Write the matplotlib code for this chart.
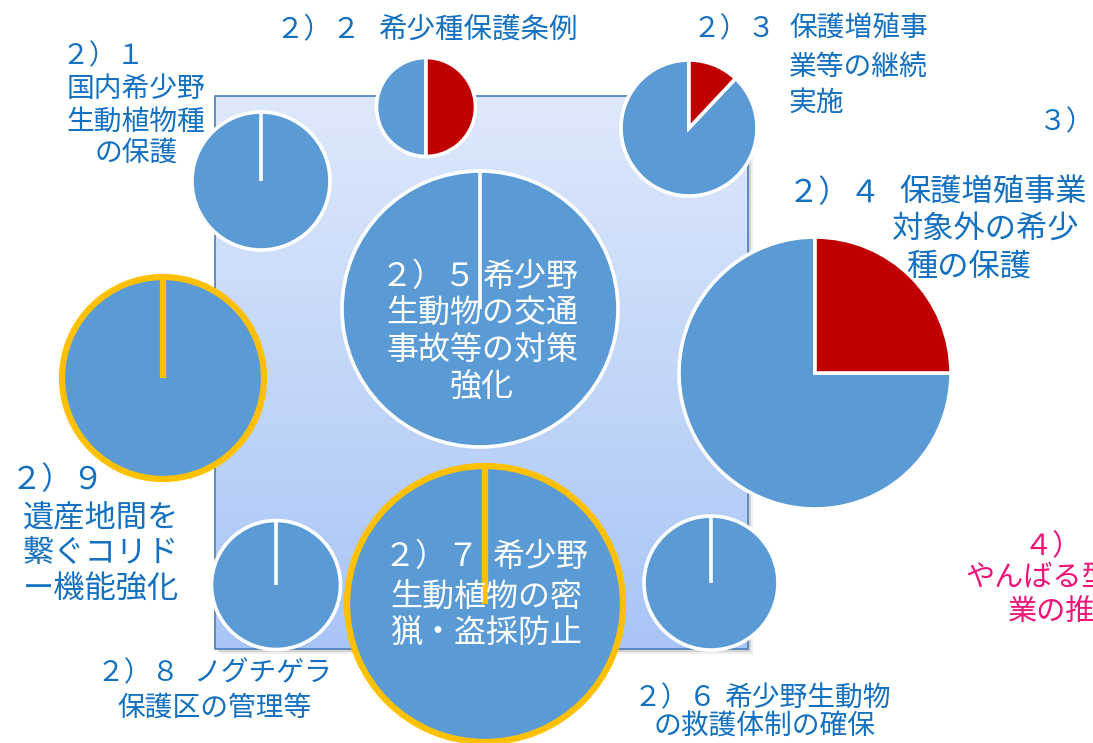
import numpy as np
import matplotlib.pyplot as plt
from matplotlib.patches import Rectangle
from matplotlib.colors import to_rgb

plt.rcParams['font.family'] = ['Noto Sans CJK JP', 'DejaVu Sans']

W, H = 1093, 743

# Pie data: red = first (clockwise from 12 o'clock) part, blue = the rest
items = ['２）１', '２）２', '２）３', '２）４', '２）５', '２）６', '２）７', '２）８', '２）９']
red_share = [0, 50, 12, 25, 0, 0, 0, 0, 0]
blue_share = [100, 50, 88, 75, 100, 100, 100, 100, 100]
highlighted = ['２）７', '２）９']

# layout in pixels, measured from the top-left corner
centers = [(261, 181), (426, 107), (689, 128), (815, 373), (480, 309),
           (711, 583), (485, 604), (276, 585), (163, 378)]
radii = [69, 49.5, 68, 136, 138, 67, 138, 64.5, 101]

BLUE = '#5B9BD5'
RED = '#C00000'
ORANGE = '#FFC000'
TXT = '#1470C0'
PINK = '#F0147A'

# text, x, y, ha, size, colour
label_rows = [
    ('２）１', 62, 56, 'left', 20, TXT),
    ('国内希少野', 136, 89, 'center', 20, TXT),
    ('生動植物種', 136, 122, 'center', 20, TXT),
    ('の保護', 136, 153, 'center', 20, TXT),
    ('２）２', 275, 30, 'left', 20.5, TXT),
    ('希少種保護条例', 378, 30, 'left', 20.5, TXT),
    ('２）３', 693, 29, 'left', 20, TXT),
    ('保護増殖事', 789, 29, 'left', 20, TXT),
    ('業等の継続', 789, 67, 'left', 20, TXT),
    ('実施', 789, 103, 'left', 20, TXT),
    ('３）', 1039, 122, 'left', 20, TXT),
    ('２）４', 788, 193, 'left', 22.5, TXT),
    ('保護増殖事業', 899, 193, 'left', 22.5, TXT),
    ('対象外の希少', 892, 230, 'left', 22.5, TXT),
    ('種の保護', 906, 267, 'left', 22.5, TXT),
    ('２）５', 381, 277, 'left', 23, 'white'),
    ('希少野', 483, 277, 'left', 23, 'white'),
    ('生動物の交通', 482, 313, 'center', 23, 'white'),
    ('事故等の対策', 482, 350, 'center', 23, 'white'),
    ('強化', 482, 388, 'center', 23, 'white'),
    ('２）６', 634, 698, 'left', 20, TXT),
    ('希少野生動物', 724, 698, 'left', 20, TXT),
    ('の救護体制の確保', 765, 727, 'center', 20, TXT),
    ('２）７', 384, 557, 'left', 23, 'white'),
    ('希少野', 493, 557, 'left', 23, 'white'),
    ('生動植物の密', 486, 597, 'center', 23, 'white'),
    ('猟・盗採防止', 486, 633, 'center', 23, 'white'),
    ('２）８', 97, 673, 'left', 20, TXT),
    ('ノグチゲラ', 193, 673, 'left', 20, TXT),
    ('保護区の管理等', 215, 708, 'center', 20, TXT),
    ('２）９', 11, 480, 'left', 22.5, TXT),
    ('遺産地間を', 23, 517, 'left', 22.5, TXT),
    ('繋ぐコリド', 23, 553, 'left', 22.5, TXT),
    ('ー機能強化', 23, 590, 'left', 22.5, TXT),
    ('４）', 1024, 547, 'left', 21, PINK),
    ('やんばる型', 965, 578, 'left', 21, PINK),
    ('業の推', 1008, 612, 'left', 21, PINK),
]


def fy(y):
    return H - y


fig = plt.figure(figsize=(W / 100, H / 100), dpi=100)
ax = fig.add_axes([0, 0, 1, 1])

# background panel with vertical gradient and a soft shadow
left, top, right, bottom = 215, 96, 748, 649
for off, a in [(5, 0.12), (3, 0.25)]:
    ax.add_patch(Rectangle((left + off, fy(bottom) - off), right - left, bottom - top,
                           fc='#7f7f7f', ec='none', alpha=a, zorder=0))
c_top = np.array(to_rgb('#DEE8FB'))
c_bot = np.array(to_rgb('#A8C5F6'))
t = np.linspace(0, 1, 256)[:, None, None]
grad = c_top * (1 - t) + c_bot * t
ax.imshow(grad, extent=[left, right, fy(bottom), fy(top)], aspect='auto',
          interpolation='bilinear', zorder=1)
ax.add_patch(Rectangle((left, fy(bottom)), right - left, bottom - top,
                       fill=False, ec='#4A7EBB', lw=1.2, zorder=2))

# pies
for i, name in enumerate(items):
    cx, cy = centers[i]
    if name in highlighted:
        ec, lw = ORANGE, 4.5
    else:
        ec, lw = 'white', 2.6
    wedges, _ = ax.pie([blue_share[i], red_share[i]], colors=[BLUE, RED],
                       startangle=90, counterclock=True,
                       center=(cx, fy(cy)), radius=radii[i], frame=True,
                       wedgeprops=dict(edgecolor=ec, linewidth=lw))
    for w in wedges:
        w.set_zorder(3)

for text, x, y, ha, size, col in label_rows:
    ax.text(x, fy(y), text, ha=ha, va='center', fontsize=size, color=col, zorder=5)

ax.set_xlim(0, W)
ax.set_ylim(0, H)
ax.set_aspect('equal')
ax.axis('off')

fig.savefig('out.png', dpi=100)
